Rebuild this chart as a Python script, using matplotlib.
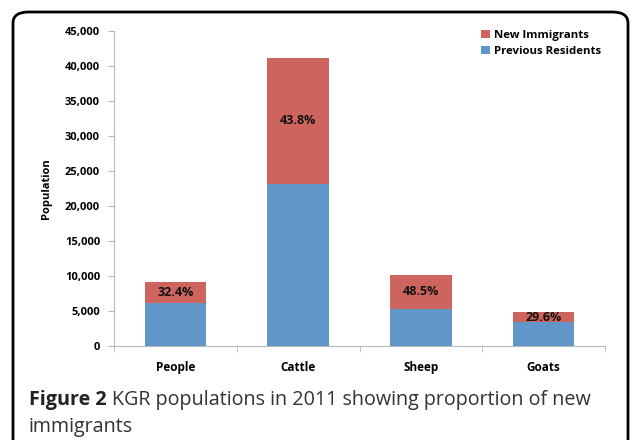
import numpy as np
import matplotlib.pyplot as plt
from matplotlib.patches import FancyBboxPatch

categories = ['People', 'Cattle', 'Sheep', 'Goats']
previous = [6150, 23150, 5250, 3420]
immigrants = [2950, 18050, 4950, 1440]
pct_labels = ['32.4%', '43.8%', '48.5%', '29.6%']
yticks = np.arange(0, 45001, 5000)

red = '#cd645e'
blue = '#6196cb'
grey = '#b8b8b8'

W, H = 632.0, 440.0
fig = plt.figure(figsize=(6.32, 4.4), dpi=100)
ax = fig.add_axes([114 / W, 1 - 346 / H, 491 / W, 315 / H])

x = np.arange(len(categories))
ax.bar(x, previous, width=0.5, color=blue, label='Previous Residents')
ax.bar(x, immigrants, width=0.5, bottom=previous, color=red, label='New Immigrants')

for i in range(len(categories)):
    yc = previous[i] + immigrants[i] / 2
    ax.text(x[i], yc, pct_labels[i], ha='center', va='center',
            fontsize=9, fontweight='bold', color='#111111', family='Open Sans')

ax.set_xlim(-0.5, 3.5)
ax.set_ylim(0, 45000)
ax.set_yticks(yticks)
ax.set_yticklabels(['{:,}'.format(v) for v in yticks], fontsize=8,
                   fontweight='bold', family='Open Sans')
ax.set_xticks(x)
ax.set_xticklabels(categories, fontsize=8.5, fontweight='bold', family='Open Sans')
ax.set_xticks(np.arange(-0.5, 4.0, 1.0), minor=True)
ax.tick_params(axis='x', which='major', length=0, pad=11)
ax.tick_params(axis='x', which='minor', length=4, color=grey)
ax.tick_params(axis='y', length=4, color=grey, pad=6)
ax.set_ylabel('Population', fontsize=8, fontweight='bold', family='Open Sans', labelpad=9)

for s in ['top', 'right']:
    ax.spines[s].set_visible(False)
for s in ['left', 'bottom']:
    ax.spines[s].set_color(grey)
    ax.spines[s].set_linewidth(0.8)

h, l = ax.get_legend_handles_labels()
fig.legend(h[::-1], l[::-1], loc='upper left', bbox_to_anchor=(481 / W, 1 - 30 / H),
           frameon=False, borderpad=0, borderaxespad=0,
           handlelength=0.75, handleheight=0.75, handletextpad=0.35,
           labelspacing=0.42, prop={'family': 'Open Sans', 'weight': 'bold', 'size': 8.2})

# rounded frame around the figure panel
frame = FancyBboxPatch((13 / W, -0.1), 615 / W, 1 - 12 / H + 0.1,
                       boxstyle='round,pad=0,rounding_size=0.025',
                       transform=fig.transFigure, fill=False,
                       edgecolor='black', linewidth=2, clip_on=False)
fig.patches.append(frame)

# caption
t1 = fig.text(29 / W, 1 - 405 / H, 'Figure 2', fontsize=14.2, fontweight='bold',
              family='Open Sans', color='#222222', va='baseline')
fig.canvas.draw()
bb = t1.get_window_extent(renderer=fig.canvas.get_renderer())
fig.text(bb.x1 / W + 5 / W, 1 - 405 / H,
         'KGR populations in 2011 showing proportion of new',
         fontsize=14.2, family='Open Sans', color='#333333', va='baseline')
fig.text(29 / W, 1 - 432 / H, 'immigrants', fontsize=14.2, family='Open Sans',
         color='#333333', va='baseline')

plt.savefig('out.png', dpi=100)
